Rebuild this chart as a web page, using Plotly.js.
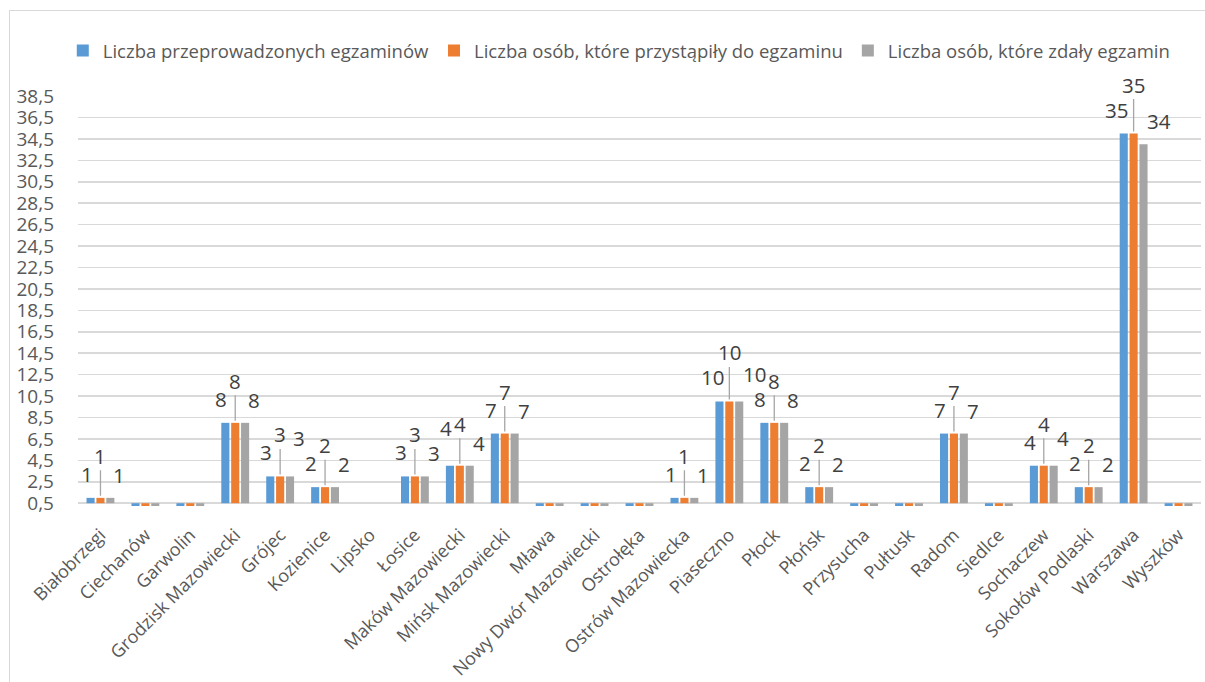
<!DOCTYPE html>
<html>
<head>
<meta charset="utf-8">
<script src="https://cdn.plot.ly/plotly-3.0.1.min.js"></script>
<style>
  html, body { margin: 0; padding: 0; background: #fff; }
  #wrap { position: relative; width: 1205px; height: 682px; overflow: hidden; }
  #frame { position: absolute; left: 9px; top: 10px; width: 1300px; height: 800px; border: 1px solid #d9d9d9; box-sizing: border-box; pointer-events: none; }
  #chart { position: absolute; left: 0; top: 0; width: 1205px; height: 682px; }
</style>
</head>
<body>
<div id="wrap">
  <div id="chart"></div>
  <div id="frame"></div>
</div>
<script>
const categories = [
  "Białobrzegi", "Ciechanów", "Garwolin", "Grodzisk Mazowiecki", "Grójec", "Kozienice",
  "Lipsko", "Łosice", "Maków Mazowiecki", "Mińsk Mazowiecki", "Mława", "Nowy Dwór Mazowiecki",
  "Ostrołęka", "Ostrów Mazowiecka", "Piaseczno", "Płock", "Płońsk", "Przysucha", "Pułtusk",
  "Radom", "Siedlce", "Sochaczew", "Sokołów Podlaski", "Warszawa", "Wyszków"
];
const seriesNames = [
  "Liczba przeprowadzonych egzaminów",
  "Liczba osób, które przystąpiły do egzaminu",
  "Liczba osób, które zdały egzamin"
];
const examsHeld = [1, 0, 0, 8, 3, 2, null, 3, 4, 7, 0, 0, 0, 1, 10, 8, 2, 0, 0, 7, 0, 4, 2, 35, 0];
const examTakers = [1, 0, 0, 8, 3, 2, null, 3, 4, 7, 0, 0, 0, 1, 10, 8, 2, 0, 0, 7, 0, 4, 2, 35, 0];
const examPassed = [1, 0, 0, 8, 3, 2, null, 3, 4, 7, 0, 0, 0, 1, 10, 8, 2, 0, 0, 7, 0, 4, 2, 34, 0];
const yTickValues = [0.5, 2.5, 4.5, 6.5, 8.5, 10.5, 12.5, 14.5, 16.5, 18.5, 20.5, 22.5, 24.5, 26.5, 28.5, 30.5, 32.5, 34.5, 36.5, 38.5];

// axis crossing value (Excel draws bars from the horizontal axis at 0,5)
const AXIS_CROSS = 0.5;
const colors = ["#5B9BD5", "#ED7D31", "#A5A5A5"];
const seriesData = [examsHeld, examTakers, examPassed];

const W = 1205, H = 682;
const M = { l: 78, r: 4, t: 96, b: 176 };
const Y_RANGE = [0.24, 38.5];
const BARGAP = 0.34;
const plotW = W - M.l - M.r;
const plotH = H - M.t - M.b;
const catW = plotW / categories.length;
const slot = catW * (1 - BARGAP) / 3;
const catX = i => M.l + (i + 0.5) * catW;
const yPix = v => M.t + (Y_RANGE[1] - v) / (Y_RANGE[1] - Y_RANGE[0]) * plotH;

const traces = seriesData.map((vals, k) => ({
  type: "bar",
  name: seriesNames[k],
  x: categories,
  y: vals.map(v => v === null ? null : v - AXIS_CROSS),
  base: AXIS_CROSS,
  marker: { color: colors[k], line: { width: 0 } },
  hoverinfo: "skip"
}));

// ---- data labels (Excel-like staggered placement with simple collision avoidance)
const LABEL_FS = 20.5;
const labelFont = { family: "Open Sans, Noto Sans, sans-serif", size: LABEL_FS, color: "#404040" };
const labelStyle = [
  { dx: -4, dy: -24, arrow: false },
  { dx: 0, dy: -42, arrow: true },
  { dx: 9, dy: -23, arrow: false }
];
const labels = [];
seriesData.forEach((vals, k) => {
  const st = labelStyle[k];
  vals.forEach((v, i) => {
    if (v === null || v === 0) return;
    const txt = String(v);
    const wide = txt.length > 1 ? 1.7 : 1;
    const px = catX(i) + (k - 1) * slot;
    const py = yPix(v);
    labels.push({
      i, k, v, txt, px, py, arrow: st.arrow,
      cx: px + st.dx * wide, cy: py + st.dy,
      w: txt.length * 0.57 * LABEL_FS + 1, h: 25
    });
  });
});
for (let pass = 0; pass < 4; pass++) {
  for (let a = 0; a < labels.length; a++) {
    for (let b = a + 1; b < labels.length; b++) {
      const A = labels[a], B = labels[b];
      const ox = Math.abs(A.cx - B.cx) < (A.w + B.w) / 2;
      const oy = Math.abs(A.cy - B.cy) < (A.h + B.h) / 2;
      if (!ox || !oy) continue;
      let mover, other;
      if (A.py !== B.py) { mover = A.py < B.py ? A : B; }
      else { mover = A.arrow ? A : (B.arrow ? B : (A.k > B.k ? A : B)); }
      other = mover === A ? B : A;
      mover.cy = Math.min(mover.cy, other.cy - (A.h + B.h) / 2);
    }
  }
}
const annotations = labels.map(L => {
  const base = {
    x: categories[L.i], y: L.v, xref: "x", yref: "y",
    text: L.txt, font: labelFont, borderpad: 0
  };
  if (L.arrow) {
    return Object.assign(base, {
      xshift: L.px - catX(L.i), showarrow: true, arrowhead: 0, arrowwidth: 1.3,
      arrowcolor: "#a6a6a6", standoff: 2, ax: L.cx - L.px, ay: L.cy - L.py
    });
  }
  return Object.assign(base, {
    xshift: L.cx - catX(L.i), yshift: L.py - L.cy, showarrow: false,
    xanchor: "center", yanchor: "middle"
  });
});

const layout = {
  width: W, height: H,
  margin: M,
  paper_bgcolor: "rgba(0,0,0,0)",
  plot_bgcolor: "rgba(0,0,0,0)",
  barmode: "group",
  bargap: BARGAP,
  bargroupgap: 0.18,
  font: { family: "Open Sans, Noto Sans, sans-serif", color: "#595959" },
  showlegend: true,
  legend: {
    orientation: "h", x: 0.482, xanchor: "center", y: 1 + 45 / 410, yanchor: "middle",
    font: { size: 18.5, color: "#595959" }, traceorder: "normal", itemwidth: 30
  },
  xaxis: {
    type: "category", categoryorder: "array", categoryarray: categories,
    range: [-0.5, categories.length - 0.5],
    tickangle: -45, tickfont: { size: 18, color: "#595959" },
    showgrid: false, zeroline: false, showline: false, ticks: "", automargin: false,
    ticklabelstandoff: 14
  },
  yaxis: {
    range: Y_RANGE, tickmode: "array", tickvals: yTickValues,
    ticktext: yTickValues.map(v => String(v).replace(".", ",")),
    tickfont: { size: 19, color: "#595959" },
    showgrid: true, gridcolor: "#d9d9d9", gridwidth: 1.6,
    zeroline: false, showline: false, ticks: "", ticklabelstandoff: 23, automargin: false
  },
  annotations: annotations
};

Plotly.newPlot("chart", traces, layout, { displayModeBar: false, staticPlot: true });
</script>
</body>
</html>
